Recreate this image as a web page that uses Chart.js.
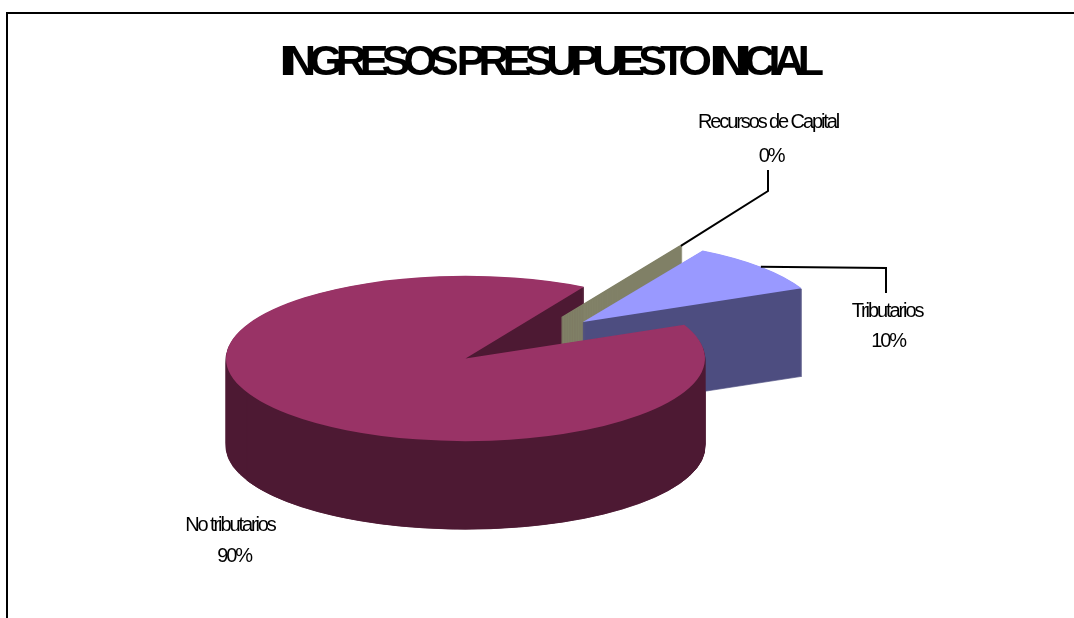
<!DOCTYPE html>
<html>
<head>
<meta charset="utf-8">
<title>Ingresos presupuesto inicial</title>
<script src="https://cdn.jsdelivr.net/npm/chart.js@4"></script>
<style>
    body { margin: 0; background: #fff; }
    #wrap { position: relative; width: 1074px; height: 618px; overflow: hidden; }
    #frame { position: absolute; left: 6px; top: 12px; width: 1074px; height: 620px;
             border-left: 2px solid #000; border-top: 2px solid #000; }
    canvas { position: absolute; left: 0; top: 0; }
</style>
</head>
<body>
<div id="wrap">
    <div id="frame"></div>
    <canvas id="chart" width="1074" height="618"></canvas>
</div>
<script>
const titleText = 'INGRESOS PRESUPUESTO INICIAL';
const categories = ['Tributarios', 'No tributarios', 'Recursos de Capital'];
const values = [10, 90, 0.1];
const topColors = ['#9999FF', '#993366', '#808066'];
const sideColors = ['#4D4D80', '#4D1933', '#808066'];

// look of the tilted pie
const pie = { cx: 465.5, cy: 358.5, radius: 239.5, squash: 0.345, depth: 88, rotation: 30 };
// how far each slice is pulled out and in which direction (degrees from north)
const explodeBy = [158, 0, 153];
const explodeDir = [48, 0, 39];
// stroke round the wall layers so that stacking leaves no seams
const wallStroke = [1, 1, 2];
// where each label goes, and the elbow of its leader line
const labelSpots = [
    { x: 887, y: 317, pctX: 888, pctY: 347, line: [[886, 268], [886, 293]] },
    { x: 230, y: 531, pctX: 234, pctY: 562, line: null },
    { x: 768, y: 128, pctX: 771, pctY: 162, line: [[768, 191], [768, 170]] }
];

const total = values.reduce((a, b) => a + b, 0);

function sliceOrigin(i) {
    const a = explodeDir[i] * Math.PI / 180;
    return {
        x: pie.cx + Math.sin(a) * explodeBy[i],
        y: pie.cy - Math.cos(a) * explodeBy[i] * pie.squash
    };
}

function paintArc(ctx, arc, i, color, dy, stroke, sweep) {
    const o = sliceOrigin(i);
    const copy = Object.create(arc);
    copy.options = { ...arc.options, backgroundColor: color, borderColor: color, borderWidth: stroke };
    if (sweep) {
        copy.endAngle = arc.startAngle + sweep;
        copy.circumference = sweep;
    }
    ctx.save();
    ctx.translate(o.x, o.y + dy);
    ctx.scale(1, pie.squash);
    ctx.translate(-arc.x, -arc.y);
    copy.draw(ctx);
    ctx.restore();
}

// stack the wall on a spare canvas and flatten it, or rounding leaves faint stripes
function paintWall(ctx, arc, i, sweep) {
    const spare = document.createElement('canvas');
    spare.width = ctx.canvas.width;
    spare.height = ctx.canvas.height;
    const sctx = spare.getContext('2d');
    for (let d = pie.depth; d > 0; d--) {
        paintArc(sctx, arc, i, sideColors[i], d, wallStroke[i], sweep);
    }
    sctx.globalCompositeOperation = 'source-in';
    sctx.fillStyle = sideColors[i];
    sctx.fillRect(0, 0, spare.width, spare.height);
    ctx.drawImage(spare, 0, 0);
}

const pie3d = {
    id: 'pie3d',
    beforeDraw(chart) {
        chart.ctx.letterSpacing = '-6.9px';
    },
    beforeDatasetsDraw(chart) {
        const ctx = chart.ctx;
        const arcs = chart.getDatasetMeta(0).data;
        // back to front: main wall, thin slice, blue slice, then main front wall over them
        paintWall(ctx, arcs[1], 1);
        paintWall(ctx, arcs[2], 2);
        paintArc(ctx, arcs[2], 2, topColors[2], 0, wallStroke[2]);
        paintWall(ctx, arcs[0], 0);
        paintArc(ctx, arcs[0], 0, topColors[0], 0, 0);
        paintWall(ctx, arcs[1], 1, Math.PI);
        paintArc(ctx, arcs[1], 1, topColors[1], 0, 0);
        return false;
    },
    afterDraw(chart) {
        const ctx = chart.ctx;
        const arcs = chart.getDatasetMeta(0).data;
        ctx.save();
        ctx.letterSpacing = '-2.1px';
        ctx.font = "20px 'Liberation Sans'";
        ctx.fillStyle = '#000';
        ctx.textAlign = 'center';
        ctx.textBaseline = 'alphabetic';
        categories.forEach((name, i) => {
            const spot = labelSpots[i];
            ctx.fillText(name, spot.x, spot.y);
            ctx.fillText(Math.round(values[i] / total * 100) + '%', spot.pctX, spot.pctY);
            if (spot.line) {
                const o = sliceOrigin(i);
                const mid = (arcs[i].startAngle + arcs[i].endAngle) / 2;
                ctx.beginPath();
                ctx.moveTo(o.x + Math.cos(mid) * pie.radius, o.y + Math.sin(mid) * pie.radius * pie.squash);
                spot.line.forEach(p => ctx.lineTo(p[0], p[1]));
                ctx.strokeStyle = '#000';
                ctx.lineWidth = 2;
                ctx.stroke();
            }
        });
        ctx.restore();
    }
};

new Chart(document.querySelector('#chart').getContext('2d'), {
    type: 'pie',
    data: {
        labels: categories,
        datasets: [{
            data: values,
            backgroundColor: topColors,
            borderWidth: 0
        }]
    },
    options: {
        responsive: false,
        animation: false,
        events: [],
        rotation: pie.rotation,
        radius: pie.radius,
        layout: { padding: { left: 23 } },
        plugins: {
            legend: { display: false },
            tooltip: { enabled: false },
            title: {
                display: true,
                text: titleText,
                color: '#000',
                font: { family: "'Liberation Sans'", size: 43, weight: 'bold' },
                padding: { top: 37, bottom: 10 }
            }
        }
    },
    plugins: [pie3d]
});
</script>
</body>
</html>
